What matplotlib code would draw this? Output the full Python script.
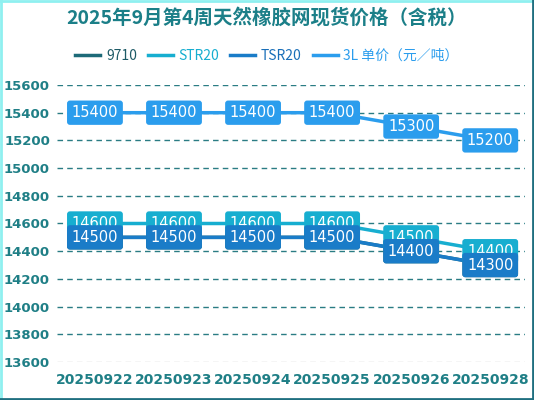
import matplotlib
matplotlib.use("Agg")
import matplotlib.pyplot as plt
from matplotlib.lines import Line2D

plt.rcParams['font.family'] = ['Noto Sans CJK SC', 'DejaVu Sans']

dates = ["20250922", "20250923", "20250924", "20250925", "20250926", "20250928"]
s9710 = [14500, 14500, 14500, 14500, 14400, 14300]
str20 = [14600, 14600, 14600, 14600, 14500, 14400]
tsr20 = [14500, 14500, 14500, 14500, 14400, 14300]
l3 = [15400, 15400, 15400, 15400, 15300, 15200]
yticks = list(range(13600, 15601, 200))

names = ["9710", "STR20", "TSR20", "3L 单价（元／吨）"]
colors = ["#1d6a78", "#17aed0", "#1a7cc8", "#2b9ded"]
series = [s9710, str20, tsr20, l3]
txt_col = "#1f7f86"

fig = plt.figure(figsize=(5.34, 4.0), dpi=100)
ax = fig.add_axes([57/534, 38/400, 468/534, 277/400])

x = list(range(len(dates)))
for vals, c in zip(series, colors):
    ax.plot(x, vals, color=c, lw=2.5, zorder=3)
    for xi, v in zip(x, vals):
        ax.text(xi, v, str(v), color="white", fontsize=10.5, ha="center", va="center",
                zorder=4, family="DejaVu Sans",
                bbox=dict(boxstyle="round,pad=0.32,rounding_size=0.2", fc=c, ec="none"))

ax.set_xlim(-0.48, 5.44)
ax.set_ylim(13600, 15600)
ax.set_yticks(yticks)
ax.set_yticklabels([str(t) for t in yticks], color=txt_col, fontsize=9.5, fontweight="bold",
                   family="DejaVu Sans")
ax.set_xticks(x)
ax.set_xticklabels(dates, color=txt_col, fontsize=10, fontweight="bold", family="DejaVu Sans")
ax.tick_params(length=0, pad=8)
ax.tick_params(axis="y", pad=5)
for t in yticks:
    ax.axhline(t, color="#cccccc" if t == 13600 else "#2a7c84", lw=1, ls=(0, (4, 3)), zorder=1)
for s in ax.spines.values():
    s.set_visible(False)
ax.set_facecolor("none")
ax.margins(0)

fig.text(0.5, 0.955, "2025年9月第4周天然橡胶网现货价格（含税）", ha="center", va="center",
         fontsize=14, fontweight="bold", color="#1b7f88")

handles = [Line2D([], [], color=c, lw=2.5) for c in colors]
leg = fig.legend(handles, names, loc="center", bbox_to_anchor=(0.5, 0.86), ncol=4,
                 frameon=False, fontsize=10, handlelength=1.8, handletextpad=0.4,
                 columnspacing=0.8)
for t, c in zip(leg.get_texts(), ["#1d5a66", "#17aed0", "#1a6fb8", "#2b9ded"]):
    t.set_color(c)

# frame around the picture
fig.add_artist(Line2D([0.002, 0.002], [0, 1], color="#8ff0f0", lw=2, transform=fig.transFigure))
fig.add_artist(Line2D([0, 1], [0.998, 0.998], color="#8ff0f0", lw=2, transform=fig.transFigure))
fig.add_artist(Line2D([0.998, 0.998], [0, 1], color="#1f6f80", lw=2, transform=fig.transFigure))
fig.add_artist(Line2D([0, 1], [0.003, 0.003], color="#1f6f80", lw=2, transform=fig.transFigure))

fig.savefig("out.png", dpi=100)
